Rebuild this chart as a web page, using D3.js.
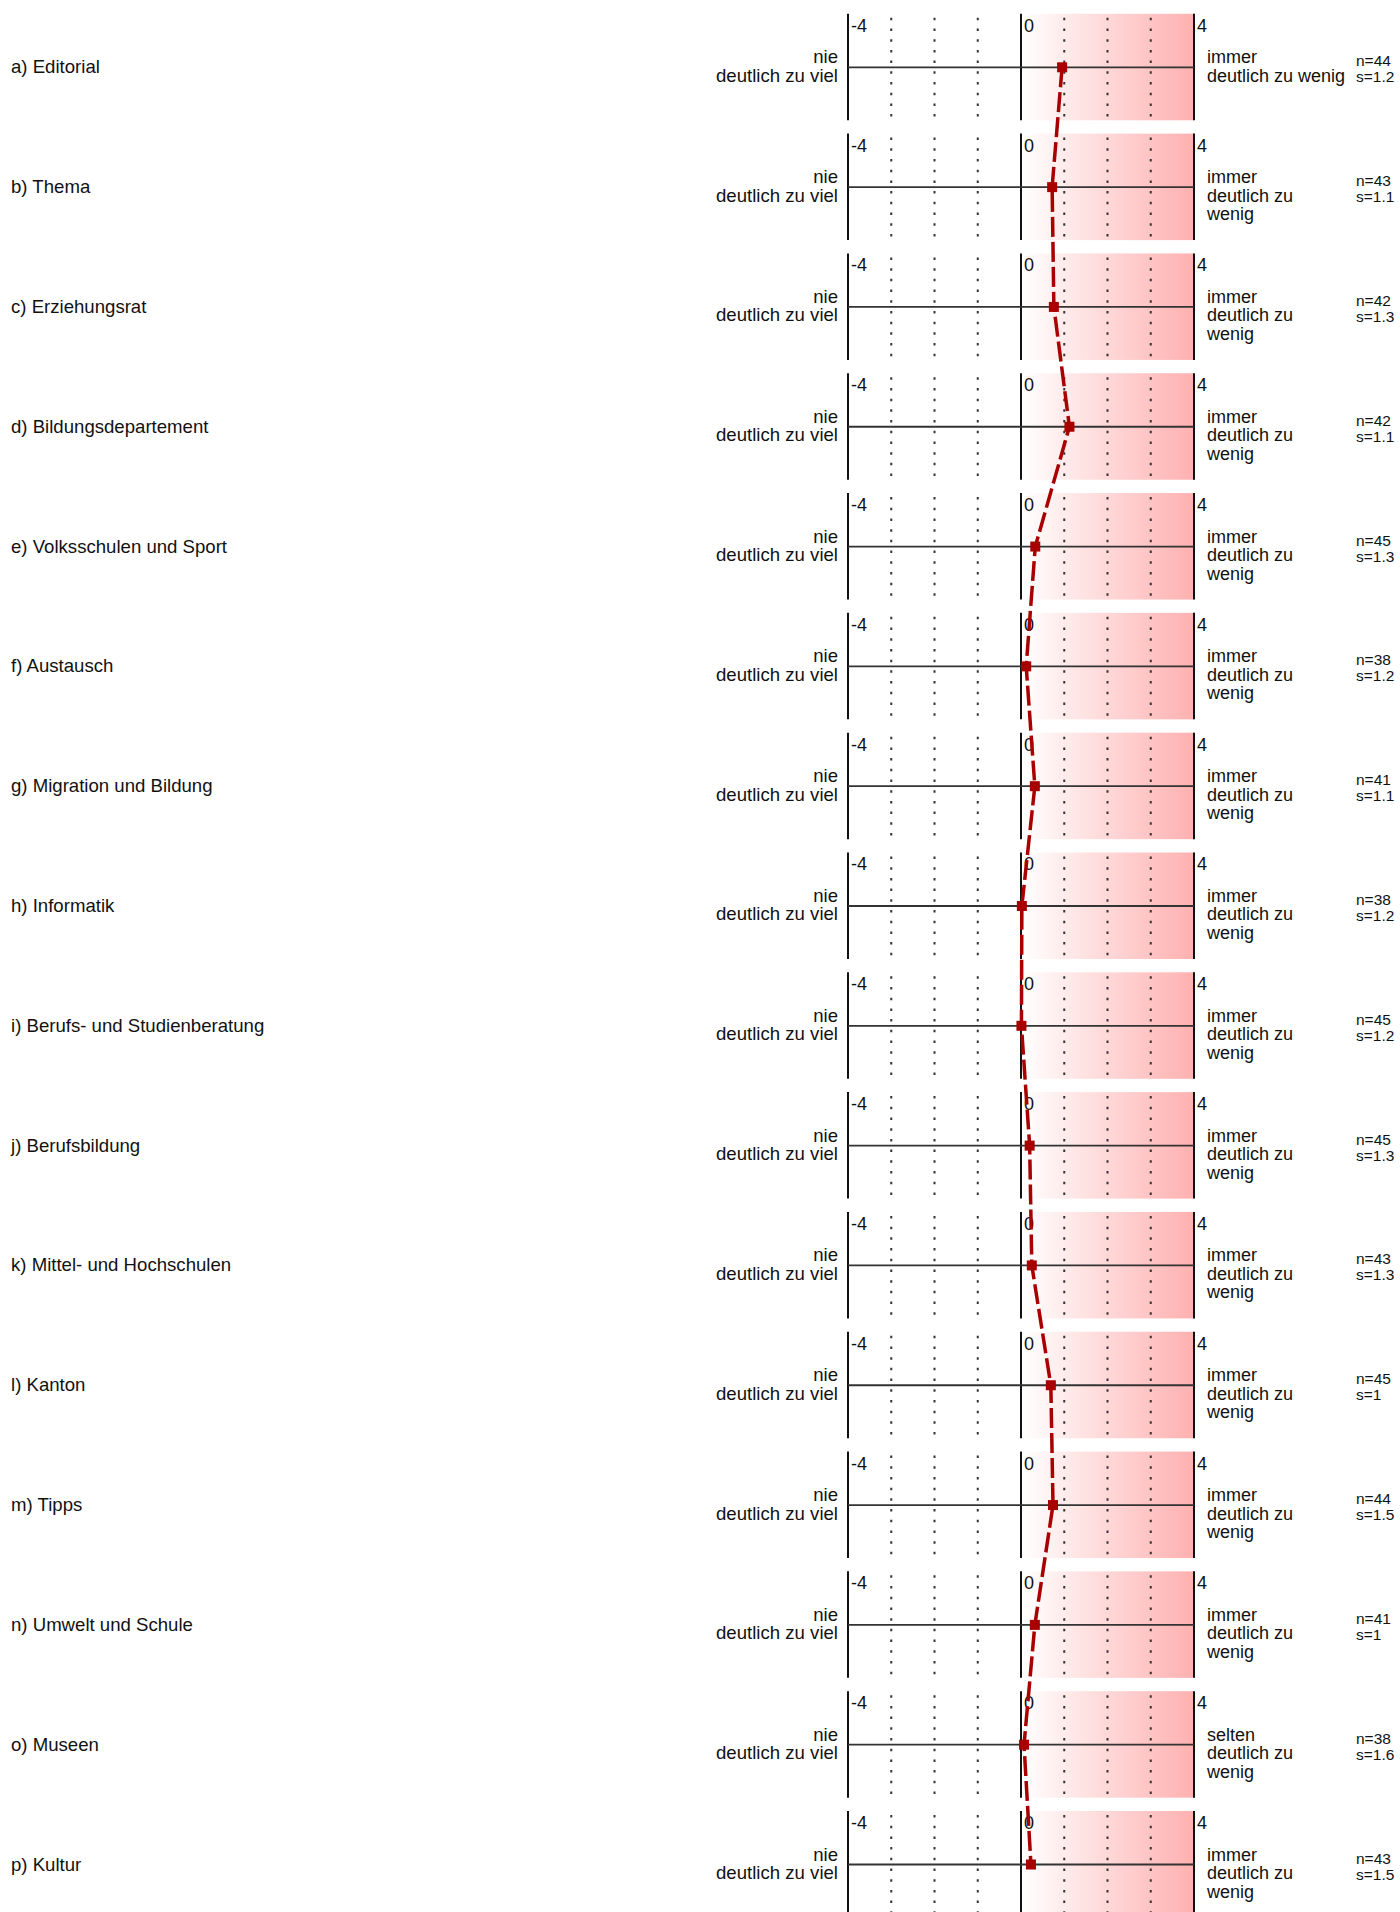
<!DOCTYPE html>
<html><head><meta charset="utf-8">
<script src="https://cdn.jsdelivr.net/npm/d3@7"></script>
<style>body{margin:0;background:#fff}svg{display:block;font-family:"Liberation Sans",Arial,sans-serif}</style>
</head><body><svg id="c" width="1400" height="1912"></svg>
<script>
const categories = ["a) Editorial","b) Thema","c) Erziehungsrat","d) Bildungsdepartement","e) Volksschulen und Sport","f) Austausch","g) Migration und Bildung","h) Informatik","i) Berufs- und Studienberatung","j) Berufsbildung","k) Mittel- und Hochschulen","l) Kanton","m) Tipps","n) Umwelt und Schule","o) Museen","p) Kultur"];
const means = [0.95,0.72,0.76,1.12,0.33,0.12,0.32,0.02,0.01,0.20,0.25,0.69,0.74,0.32,0.07,0.23];
const nValues = [44,43,42,42,45,38,41,38,45,45,43,45,44,41,38,43];
const sValues = ["1.2","1.1","1.3","1.1","1.3","1.2","1.1","1.2","1.2","1.3","1.3","1","1.5","1","1.6","1.5"];
const leftLabels = ["nie","deutlich zu viel"];
const rightLabels = [
 ["immer","deutlich zu wenig"],
 ["immer","deutlich zu","wenig"],["immer","deutlich zu","wenig"],["immer","deutlich zu","wenig"],
 ["immer","deutlich zu","wenig"],["immer","deutlich zu","wenig"],["immer","deutlich zu","wenig"],
 ["immer","deutlich zu","wenig"],["immer","deutlich zu","wenig"],["immer","deutlich zu","wenig"],
 ["immer","deutlich zu","wenig"],["immer","deutlich zu","wenig"],["immer","deutlich zu","wenig"],
 ["immer","deutlich zu","wenig"],["selten","deutlich zu","wenig"],["immer","deutlich zu","wenig"]];
const tickLabels = [-4,0,4];
const dottedTicks = [-3,-2,-1,1,2,3];

const svg = d3.select("#c");
const x = d3.scaleLinear().domain([-4,4]).range([848,1194]);
const y = d3.scalePoint().domain(categories).range([67.3,1864.5]);

const defs = svg.append("defs");
const grad = defs.append("linearGradient").attr("id","pink").attr("x1","0").attr("x2","1").attr("y1","0").attr("y2","0");
grad.append("stop").attr("offset","0").attr("stop-color","#ffffff");
grad.append("stop").attr("offset","1").attr("stop-color","rgb(255,176,176)");

const fs = 18;
categories.forEach((cat,i)=>{
  const c = y(cat);
  const g = svg.append("g");
  const top = c-53.5, bot = c+53;
  g.append("rect").attr("x",x(0)).attr("y",top).attr("width",x(4)-x(0)).attr("height",bot-top).attr("fill","url(#pink)");
  dottedTicks.forEach(t=>{
    g.append("line").attr("x1",x(t)).attr("x2",x(t)).attr("y1",top+4).attr("y2",bot)
      .attr("stroke","#333").attr("stroke-width",2).attr("stroke-dasharray","2.5,8.2");
  });
  [-4,0,4].forEach(t=>{
    g.append("line").attr("x1",x(t)).attr("x2",x(t)).attr("y1",top).attr("y2",bot)
      .attr("stroke","#111").attr("stroke-width",2);
  });
  g.append("line").attr("x1",x(-4)).attr("x2",x(4)).attr("y1",c).attr("y2",c).attr("stroke","#333").attr("stroke-width",1.8);
  tickLabels.forEach(t=>{
    g.append("text").attr("x",x(t)+3).attr("y",top+18).attr("font-size",fs).attr("fill","#111").text(t);
  });
  g.append("text").attr("x",11).attr("y",c+6).attr("font-size",18.6).attr("fill","#111").text(cat);
  leftLabels.forEach((t,k)=>{
    g.append("text").attr("x",838).attr("y",c-4+k*18.5).attr("font-size",18.6).attr("text-anchor","end").attr("fill","#111").text(t);
  });
  rightLabels[i].forEach((t,k)=>{
    g.append("text").attr("x",1207).attr("y",c-4+k*18.5).attr("font-size",fs).attr("fill","#111").text(t);
  });
  g.append("text").attr("x",1356).attr("y",c-1).attr("font-size",15.5).attr("fill","#111").text("n="+nValues[i]);
  g.append("text").attr("x",1356).attr("y",c+15).attr("font-size",15.5).attr("fill","#111").text("s="+sValues[i]);
});

const line = d3.line().x(d=>x(d[0])).y(d=>y(d[1]));
const pts = means.map((m,i)=>[m,categories[i]]);
svg.append("path").attr("d",line(pts)).attr("fill","none").attr("stroke","#a80000").attr("stroke-width",3.5).attr("stroke-dasharray","20,5");
svg.selectAll("rect.m").data(pts).join("rect").attr("class","m")
  .attr("x",d=>x(d[0])-5).attr("y",d=>y(d[1])-5).attr("width",10).attr("height",10).attr("fill","#a80000");
</script></body></html>
